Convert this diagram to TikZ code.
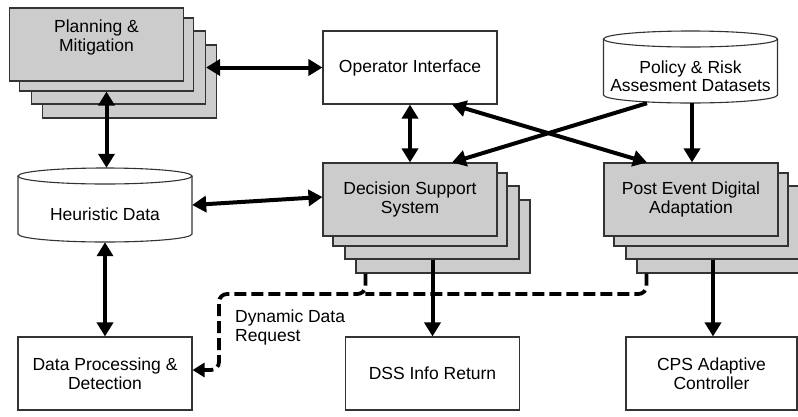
\documentclass[tikz,border=0pt]{standalone}
\usepackage{fontspec}
\setmainfont{Liberation Sans}
\usetikzlibrary{arrows.meta,calc}
\tikzset{
  box/.style={draw=black!80, line width=1.1pt, fill=white, minimum width=174pt, minimum height=73pt, inner sep=0pt, align=center},
  layer/.style={box, fill=gray!40},
  txt/.style={inner sep=0pt, align=center},
  cylline/.style={draw=black!80, line width=1.1pt, fill=white},
  arr/.style={line width=4pt, -{Triangle[length=14pt,width=16pt]}},
  dbl/.style={line width=4pt, {Triangle[length=14pt,width=16pt]}-{Triangle[length=14pt,width=16pt]}},
  dashline/.style={line width=3.8pt, dash pattern=on 12pt off 5pt, rounded corners=8pt},
  dsharr/.style={dashline, -{Triangle[length=12pt,width=14pt]}},
}
\newcommand\mystack[5]{%
  \node[layer] (#1-4) at (#2+33,#3+37) {};
  \node[layer] (#1-3) at (#2+22,#3+23) {};
  \node[layer] (#1-2) at (#2+10,#3+10) {};
  \node[layer] (#1) at (#2,#3) {};
  \node[txt] at (#2,#3-#5) {#4};
}
\newcommand\mycyl[6]{% name, cx, top, bottom, text, text y
  \path[cylline] (#2-87,#3+8) -- (#2-87,#4-8) arc[start angle=180,end angle=0,x radius=87,y radius=8] -- (#2+87,#3+8);
  \draw[cylline] (#2,#3+8) ellipse[x radius=87,y radius=8];
  \node[inner sep=0pt, minimum width=174pt, minimum height=#4-#3] (#1) at (#2,{(#3+#4)/2}) {};
  \node[txt] at (#2,#6) {#5};
}
\begin{document}
\begin{tikzpicture}[x=1pt,y=-1pt,font=\fontsize{17.5}{18.5}\selectfont]
\useasboundingbox (0,0) rectangle (798,416);
\clip (0,0) rectangle (798,416);
\fill[white] (0,0) rectangle (798,416);

\mystack{plan}{96.5}{44.5}{Planning \&\\Mitigation}{7}
\mystack{dss}{410}{199.5}{Decision Support\\System}{0}
\mystack{post}{691}{199.5}{Post Event Digital\\Adaptation}{0}

\node[box] (oi) at (410,67.5) {Operator Interface};
\node[box] (dp) at (105,373.5) {Data Processing \&\\Detection};
\node[box] (dssinfo) at (432.5,373.5) {DSS Info Return};
\node[box, minimum width=171pt] (cps) at (711.5,373.5) {CPS Adaptive\\Controller};

\mycyl{pol}{690.5}{31}{103}{Policy \& Risk\\Assesment Datasets}{76}
\mycyl{heur}{105}{168}{242}{Heuristic Data}{214}

\draw[dbl] (plan-3.east |- oi.west) -- (oi.west);
\draw[dbl] (oi.south) -- (dss.north);
\draw[dbl] ([xshift=42pt]oi.south) -- ([xshift=-44pt]post.north);
\draw[arr] ([xshift=-43.5pt]pol.south) -- ([xshift=42pt]dss.north);
\draw[arr] ([xshift=1.5pt]pol.south) -- ([xshift=1.5pt]pol.south |- post.north);
\draw[dbl] (plan-2.south) -- (plan-2.south |- heur.north);
\draw[dbl] (heur.east) -- ([yshift=2.5pt]dss.west);
\draw[dbl] (heur.south) -- (dp.north);
\draw[arr] (dssinfo.north |- dss-3.south) -- (dssinfo.north);
\draw[arr] ([xshift=1.5pt]cps.north |- post-3.south) -- ([xshift=1.5pt]cps.north);

\coordinate (d1) at ([xshift=10pt]dss-4.south west);
\coordinate (d2) at ([xshift=10pt]post-4.south west);
\coordinate (bend) at (219,294);
\draw[dashline] (d2) |- (d1 |- bend);
\draw[dsharr] (d1) |- (bend) |- ([yshift=3.5pt]dp.east);
\node[txt, anchor=north west, align=left] (lbl) at (235,310) {Dynamic Data\\Request};
\end{tikzpicture}
\end{document}
